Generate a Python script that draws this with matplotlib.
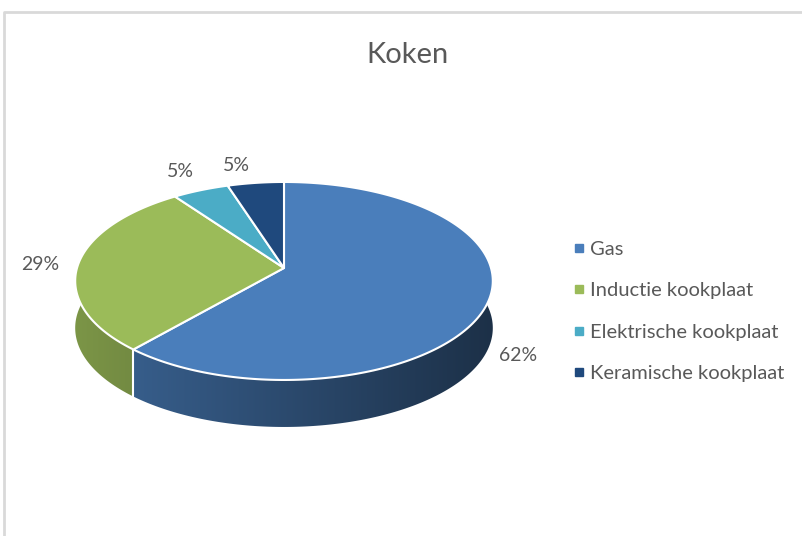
import numpy as np
import matplotlib.pyplot as plt
from matplotlib.patches import Polygon
from matplotlib.lines import Line2D
from matplotlib.colors import to_rgb

# ---- data ----
categories = ["Gas", "Inductie kookplaat", "Elektrische kookplaat", "Keramische kookplaat"]
values = [62, 29, 5, 5]
labels = ["62%", "29%", "5%", "5%"]
colors = ["#4a7ebb", "#9bbb59", "#4bacc6", "#1f497d"]
label_nudge = [(-10, 5), (3, 2), (-4, -3), (-14, 0)]

plt.rcParams['font.family'] = ['Lato', 'DejaVu Sans']
text_color = "#595959"

fig = plt.figure(figsize=(8.03, 5.36), dpi=100)
ax = fig.add_axes([0, 0, 1, 1])
ax.set_xlim(0, 803)
ax.set_ylim(536, 0)
ax.axis('off')

# chart frame (only top and left edges visible in the crop)
ax.plot([4, 4, 803], [536, 12, 12], color="#d9d9d9", lw=2, solid_capstyle='butt')

# ---- 3D pie geometry (simple perspective) ----
cx, cy, rx, ry, depth, persp = 284, 268, 207, 97.3, 47, 0.131

fracs = np.array(values) / sum(values)
starts = 90 - 360 * np.concatenate([[0], np.cumsum(fracs)[:-1]])
ends = starts - 360 * fracs  # clockwise, Excel style


def pt(theta, k=1.0, dy=0.0):
    t = np.radians(theta)
    s = 1.0 / (1.0 + persp * np.sin(t))
    return cx + k * rx * np.cos(t) * s, cy - k * ry * np.sin(t) * s + dy


# side walls with a left-to-right darkening gradient
gx = np.linspace(cx - rx * 1.02, cx + rx * 1.02, 400)
for s, e, c in zip(starts, ends, colors):
    hi = min(s, 10)
    lo = max(e, -190)
    if hi <= lo:
        continue
    th = np.linspace(lo, hi, 200)
    xt, yt = pt(th)
    xb, yb = pt(th[::-1], dy=depth)
    poly = Polygon(list(zip(xt, yt)) + list(zip(xb, yb)), closed=True,
                   facecolor='none', edgecolor='none')
    ax.add_patch(poly)
    f = (gx - gx[0]) / (gx[-1] - gx[0])
    shade = 0.80 - 0.42 * f
    img = np.clip(np.array(to_rgb(c))[None, None, :] * shade[None, :, None], 0, 1)
    im = ax.imshow(img, extent=(gx[0], gx[-1], cy + ry * 1.3 + depth, cy - ry * 1.3),
                   aspect='auto', interpolation='bilinear', zorder=1)
    im.set_clip_path(poly)

# white seam between side walls
for e in ends[:-1]:
    if -180 < e < 0:
        x, y = pt(e)
        ax.plot([x, x], [y, y + depth], color="white", lw=1.5, zorder=2)

# top faces
for s, e, c in zip(starts, ends, colors):
    th = np.linspace(s, e, 200)
    xs, ys = pt(th)
    verts = [(cx, cy)] + list(zip(xs, ys))
    ax.add_patch(Polygon(verts, closed=True, facecolor=c, edgecolor="white",
                         lw=1.5, joinstyle='round', zorder=3))

# data labels
for s, e, lab, (nx, ny) in zip(starts, ends, labels, label_nudge):
    mid = (s + e) / 2
    lx, ly = pt(mid, k=1.2)
    if np.sin(np.radians(mid)) < 0:
        ly += depth * 0.85
    ax.text(lx + nx, ly + ny, lab, ha='center', va='center', fontsize=14, color=text_color)

# title
ax.text(408, 55, "Koken", ha='center', va='center', fontsize=21, color=text_color)

# legend
handles = [Line2D([], [], marker='s', linestyle='', color=c, markersize=6) for c in colors]
fig.legend(handles, categories, loc='upper left', bbox_to_anchor=(563 / 803, 1 - 233 / 536),
           frameon=False, handletextpad=0.15, labelspacing=1.2, fontsize=14.5,
           labelcolor=text_color, handlelength=0.8, borderaxespad=0)

fig.savefig("out.png", dpi=100)
